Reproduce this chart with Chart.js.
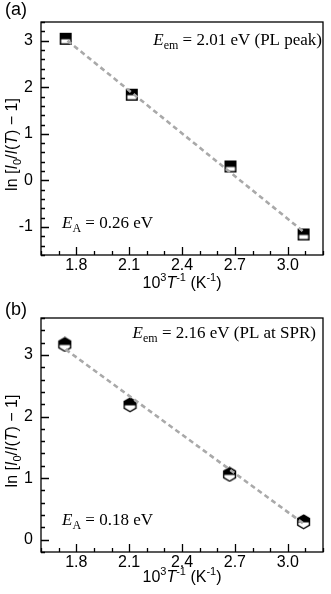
<!DOCTYPE html>
<html>
<head>
<meta charset="utf-8">
<script src="https://cdn.jsdelivr.net/npm/chart.js@4.4.0/dist/chart.umd.min.js"></script>
<style>
html, body { margin: 0; padding: 0; background: #fff; }
.panel { position: absolute; left: 0; width: 331px; height: 297px; }
#pa { top: 0; }
#pb { top: 297px; }
</style>
</head>
<body>
<div class="panel" id="pa"><canvas id="chartA" width="331" height="297"></canvas></div>
<div class="panel" id="pb"><canvas id="chartB" width="331" height="297"></canvas></div>
<script>
// shared x axis (10^3/T)
const xRange = [1.6, 3.2];
const xTicks = [1.8, 2.1, 2.4, 2.7, 3.0];
const xMinorStep = 0.1;

// panel (a): PL peak
const xA = [1.74, 2.115, 2.675, 3.09];
const yA = [3.04, 1.84, 0.30, -1.16];
const fitXA = [1.75, 3.09];
const fitYA = [3.0, -1.1];
const yRangeA = [-1.6, 3.4];
const yTicksA = [-1, 0, 1, 2, 3];

// panel (b): PL at SPR
const xB = [1.735, 2.105, 2.67, 3.09];
const yB = [3.17, 2.19, 1.06, 0.29];
const fitXB = [1.74, 3.09];
const fitYB = [3.09, 0.26];
const yRangeB = [-0.2, 3.6];
const yTicksB = [0, 1, 2, 3];
const yMinorStep = 0.2;

const SANS = "'Liberation Sans', Arial, sans-serif";
const SERIF = "'Liberation Serif', 'Times New Roman', serif";

// half-filled markers
function squareMarker() {
    const c = document.createElement('canvas');
    c.width = 14; c.height = 14;
    const g = c.getContext('2d');
    g.fillStyle = '#fff';
    g.fillRect(1, 1, 12, 12);
    g.fillStyle = '#000';
    g.fillRect(1, 1, 12, 6.5);
    g.strokeStyle = '#000';
    g.lineWidth = 1.5;
    g.strokeRect(1.75, 1.75, 10.5, 10.5);
    return c;
}

function hexMarker() {
    const c = document.createElement('canvas');
    c.width = 15; c.height = 16;
    const g = c.getContext('2d');
    const cx = 7.5, cy = 8, r = 6.8;
    const pts = [];
    for (let i = 0; i < 6; i++) {
        const a = -Math.PI / 2 + i * Math.PI / 3;
        pts.push([cx + r * Math.cos(a), cy + r * Math.sin(a)]);
    }
    const hex = () => {
        g.beginPath();
        pts.forEach((p, i) => i ? g.lineTo(p[0], p[1]) : g.moveTo(p[0], p[1]));
        g.closePath();
    };
    hex();
    g.fillStyle = '#fff';
    g.fill();
    g.save();
    hex();
    g.clip();
    g.fillStyle = '#000';
    g.fillRect(0, 0, 15, cy + 0.5);
    g.restore();
    hex();
    g.strokeStyle = '#000';
    g.lineWidth = 1.4;
    g.stroke();
    return c;
}

// draws a list of text pieces [text, font, dy]
function richText(ctx, parts, x, y, align) {
    let w = 0;
    parts.forEach(p => { ctx.font = p[1]; w += ctx.measureText(p[0]).width; });
    let cx = align === 'right' ? x - w : align === 'center' ? x - w / 2 : x;
    ctx.textAlign = 'left';
    ctx.textBaseline = 'alphabetic';
    parts.forEach(p => {
        ctx.font = p[1];
        ctx.fillText(p[0], cx, y + (p[2] || 0));
        cx += ctx.measureText(p[0]).width;
    });
}

const frameTicks = {
    id: 'frameTicks',
    afterDraw(chart, args, o) {
        const { ctx, chartArea: a, scales: { x, y } } = chart;
        ctx.save();
        ctx.strokeStyle = '#000';
        ctx.lineWidth = 1.3;
        ctx.strokeRect(a.left, a.top, a.right - a.left, a.bottom - a.top);
        ctx.beginPath();
        for (let v = x.min; v <= x.max + 1e-9; v += xMinorStep) {
            const major = xTicks.some(t => Math.abs(t - v) < 1e-6);
            const px = Math.round(x.getPixelForValue(v)) + 0.5;
            ctx.moveTo(px, a.bottom);
            ctx.lineTo(px, a.bottom - (major ? 8 : 4));
        }
        for (let v = y.min; v <= y.max + 1e-9; v += yMinorStep) {
            const major = o.yTicks.some(t => Math.abs(t - v) < 1e-6);
            const py = Math.round(y.getPixelForValue(v)) + 0.5;
            ctx.moveTo(a.left, py);
            ctx.lineTo(a.left + (major ? 8 : 4), py);
        }
        ctx.stroke();

        ctx.fillStyle = '#000';
        // panel letter
        ctx.font = '18px ' + SANS;
        ctx.textAlign = 'left';
        ctx.textBaseline = 'alphabetic';
        ctx.fillText(o.letter, 5, o.letterY);

        // annotations
        const big = '17px ' + SERIF, ital = 'italic 17px ' + SERIF, sub = '12px ' + SERIF;
        richText(ctx, [['E', ital], ['em', sub, 4], [' = ' + o.eem, big]], o.eemX, o.eemY, 'right');
        richText(ctx, [['E', ital], ['A', sub, 4], [' = ' + o.ea, big]], 62, 228, 'left');

        // x title
        const f = '16px ' + SANS, fi = 'italic 16px ' + SANS, fs = '11px ' + SANS;
        richText(ctx, [['10', f], ['3', fs, -7], ['T', fi], ['-1', fs, -7], [' (K', f], ['-1', fs, -7], [')', f]],
            182, o.xTitleY, 'center');

        // y title
        ctx.translate(17, (a.top + a.bottom) / 2 + 6);
        ctx.rotate(-Math.PI / 2);
        richText(ctx, [['ln [', f], ['I', fi], ['0', fs, 4], ['/', f], ['I', fi], ['(', f], ['T', fi], [') \u2212 1]', f]],
            0, 0, 'center');
        ctx.restore();
    }
};

function makeChart(id, xs, ys, fx, fy, yRange, yTicks, marker, extra) {
    new Chart(document.getElementById(id), {
        type: 'scatter',
        data: {
            datasets: [
                {
                    data: xs.map((v, i) => ({ x: v, y: ys[i] })),
                    pointStyle: marker,
                    pointRadius: 7,
                    order: 1
                },
                {
                    type: 'line',
                    data: fx.map((v, i) => ({ x: v, y: fy[i] })),
                    borderColor: '#a9a9a9',
                    borderWidth: 2.6,
                    borderDash: [5, 3.5],
                    pointRadius: 0,
                    fill: false,
                    order: 0
                }
            ]
        },
        options: {
            responsive: false,
            animation: false,
            layout: { padding: { top: extra.top, right: 4, left: 0, bottom: 0 } },
            plugins: {
                legend: { display: false },
                tooltip: { enabled: false },
                frameTicks: Object.assign({ yTicks: yTicks }, extra)
            },
            scales: {
                x: {
                    type: 'linear',
                    min: xRange[0],
                    max: xRange[1],
                    afterBuildTicks: s => { s.ticks = xTicks.map(v => ({ value: v })); },
                    afterFit: s => { s.height = 42; },
                    grid: { display: false, drawTicks: false },
                    border: { display: false },
                    ticks: {
                        padding: 1,
                        color: '#000',
                        font: { family: SANS, size: 16 },
                        callback: v => v.toFixed(1)
                    }
                },
                y: {
                    type: 'linear',
                    min: yRange[0],
                    max: yRange[1],
                    afterBuildTicks: s => { s.ticks = yTicks.map(v => ({ value: v })); },
                    afterFit: s => { s.width = 41; },
                    grid: { display: false, drawTicks: false },
                    border: { display: false },
                    ticks: {
                        padding: 8,
                        color: '#000',
                        font: { family: SANS, size: 16 },
                        callback: v => String(v)
                    }
                }
            }
        },
        plugins: [frameTicks]
    });
}

makeChart('chartA', xA, yA, fitXA, fitYA, yRangeA, yTicksA, squareMarker(), {
    top: 22, letter: '(a)', letterY: 15, eem: '2.01 eV (PL peak)', eemX: 322, eemY: 45,
    ea: '0.26 eV', xTitleY: 288
});
makeChart('chartB', xB, yB, fitXB, fitYB, yRangeB, yTicksB, hexMarker(), {
    top: 21, letter: '(b)', letterY: 18, eem: '2.16 eV (PL at SPR)', eemX: 316, eemY: 41,
    ea: '0.18 eV', xTitleY: 285
});
</script>
</body>
</html>
